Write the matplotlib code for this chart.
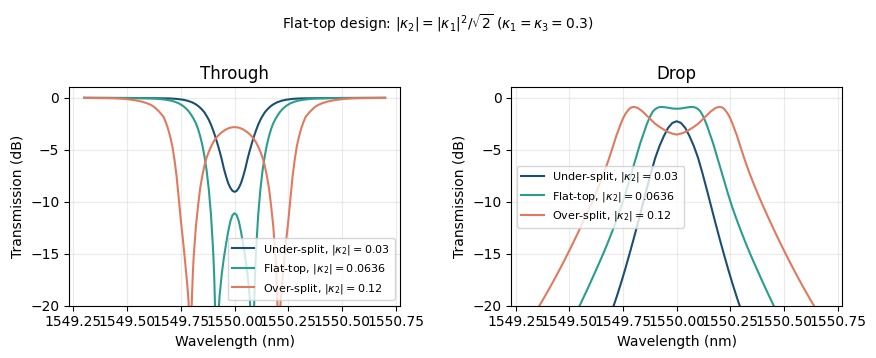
import numpy as np
import matplotlib
matplotlib.use("Agg")
from matplotlib import pyplot as plt

# centre wavelength of the filter (nm); curves are stored as offsets from it
center_nm = 1550.0

# ---- through port, values (offset nm, dB) ----
thr_under_off = [-0.70, -0.60, -0.50, -0.45, -0.40, -0.35, -0.30, -0.27, -0.24, -0.22, -0.20, -0.19,
                 -0.18, -0.17, -0.16, -0.15, -0.14, -0.13, -0.12, -0.11, -0.10, -0.09, -0.08, -0.07,
                 -0.06, -0.05, -0.04, -0.03, -0.02, -0.01, 0.0,
                 0.01, 0.02, 0.03, 0.04, 0.05, 0.06, 0.07, 0.08, 0.09, 0.10, 0.11, 0.12, 0.13, 0.14,
                 0.15, 0.16, 0.17, 0.18, 0.19, 0.20, 0.22, 0.24, 0.27, 0.30, 0.35, 0.40, 0.45, 0.50,
                 0.60, 0.70]
thr_under_db = [-0.01, -0.015, -0.02, -0.03, -0.04, -0.05, -0.07, -0.11, -0.19, -0.28, -0.42, -0.52,
                -0.64, -0.78, -0.96, -1.17, -1.42, -1.75, -2.12, -2.58, -3.12, -3.72, -4.40, -5.12,
                -5.90, -6.80, -7.55, -8.20, -8.65, -8.95, -9.05,
                -8.95, -8.65, -8.20, -7.55, -6.80, -5.90, -5.12, -4.40, -3.72, -3.12, -2.58, -2.12,
                -1.75, -1.42, -1.17, -0.96, -0.78, -0.64, -0.52, -0.42, -0.28, -0.19, -0.11, -0.07,
                -0.05, -0.04, -0.03, -0.02, -0.015, -0.01]

thr_flat_off = [-0.70, -0.60, -0.50, -0.45, -0.40, -0.38, -0.35, -0.32, -0.30, -0.28, -0.26, -0.24,
                -0.23, -0.22, -0.21, -0.20, -0.19, -0.18, -0.17, -0.16, -0.15, -0.14, -0.13, -0.12,
                -0.11, -0.10, -0.095, -0.091, -0.087, -0.083, -0.079, -0.075, -0.07, -0.06, -0.05,
                -0.04, -0.03, -0.02, -0.01, 0.0,
                0.01, 0.02, 0.03, 0.04, 0.05, 0.06, 0.07, 0.075, 0.079, 0.083, 0.087, 0.091, 0.095,
                0.10, 0.11, 0.12, 0.13, 0.14, 0.15, 0.16, 0.17, 0.18, 0.19, 0.20, 0.21, 0.22, 0.23,
                0.24, 0.26, 0.28, 0.30, 0.32, 0.35, 0.38, 0.40, 0.45, 0.50, 0.60, 0.70]
thr_flat_db = [-0.01, -0.02, -0.03, -0.04, -0.06, -0.07, -0.12, -0.19, -0.26, -0.37, -0.53, -0.78,
               -0.95, -1.15, -1.40, -1.70, -2.05, -2.45, -3.00, -3.70, -4.55, -5.65, -7.00, -8.80,
               -11.2, -14.6, -17.0, -20.0, -24.0, -30.0, -24.0, -20.8, -19.1, -17.0, -15.4,
               -14.1, -12.9, -11.9, -11.3, -11.1,
               -11.3, -11.9, -12.9, -14.1, -15.4, -17.0, -19.1, -20.8, -24.0, -30.0, -24.0, -20.0,
               -17.0, -14.6, -11.2, -8.80, -7.00, -5.65, -4.55, -3.70, -3.00, -2.45, -2.05, -1.70,
               -1.40, -1.15, -0.95, -0.78, -0.53, -0.37, -0.26, -0.19, -0.12, -0.07, -0.06, -0.04,
               -0.03, -0.02, -0.01]

thr_over_off = [-0.70, -0.65, -0.60, -0.55, -0.50, -0.46, -0.43, -0.41, -0.39, -0.38, -0.37, -0.36,
                -0.35, -0.34, -0.33, -0.32, -0.31, -0.30, -0.29, -0.28, -0.27, -0.26, -0.25, -0.24,
                -0.23, -0.22, -0.214, -0.208, -0.205, -0.202, -0.198, -0.194, -0.19, -0.185, -0.18,
                -0.17, -0.16, -0.15, -0.14, -0.13, -0.12, -0.11, -0.10, -0.09, -0.08, -0.07, -0.06,
                -0.05, -0.04, -0.03, -0.02, -0.01, 0.0,
                0.01, 0.02, 0.03, 0.04, 0.05, 0.06, 0.07, 0.08, 0.09, 0.10, 0.11, 0.12, 0.13, 0.14,
                0.15, 0.16, 0.17, 0.18, 0.185, 0.19, 0.194, 0.198, 0.202, 0.205, 0.208, 0.214, 0.22,
                0.23, 0.24, 0.25, 0.26, 0.27, 0.28, 0.29, 0.30, 0.31, 0.32, 0.33, 0.34, 0.35, 0.36,
                0.37, 0.38, 0.39, 0.41, 0.43, 0.46, 0.50, 0.55, 0.60, 0.65, 0.70]
thr_over_db = [-0.02, -0.03, -0.04, -0.06, -0.13, -0.25, -0.38, -0.51, -0.68, -0.80, -0.95, -1.15,
               -1.35, -1.60, -1.85, -2.35, -2.95, -3.70, -4.60, -5.90, -7.50, -9.60, -11.8, -13.7,
               -15.8, -18.0, -19.6, -22.5, -28.0, -21.8, -19.0, -16.8, -15.2, -13.8, -12.4,
               -10.4, -8.70, -7.50, -6.50, -5.75, -5.20, -4.72, -4.30, -3.98, -3.72, -3.50, -3.33,
               -3.18, -3.05, -2.95, -2.88, -2.84, -2.83,
               -2.84, -2.88, -2.95, -3.05, -3.18, -3.33, -3.50, -3.72, -3.98, -4.30, -4.72, -5.20,
               -5.75, -6.50, -7.50, -8.70, -10.4, -12.4, -13.8, -15.2, -16.8, -19.0, -21.8, -28.0,
               -22.5, -19.6, -18.0, -15.8, -13.7, -11.8, -9.60, -7.50, -5.90, -4.60, -3.70, -2.95,
               -2.35, -1.85, -1.60, -1.35, -1.15, -0.95, -0.80, -0.68, -0.51, -0.38, -0.25, -0.13,
               -0.06, -0.04, -0.03, -0.02]

# ---- drop port ----
drp_under_off = [-0.32, -0.30, -0.28, -0.26, -0.24, -0.22, -0.20, -0.18, -0.16, -0.14, -0.12, -0.10,
                 -0.08, -0.06, -0.04, -0.02, 0.0, 0.02, 0.04, 0.06, 0.08, 0.10, 0.12, 0.14, 0.16,
                 0.18, 0.20, 0.22, 0.24, 0.26, 0.28, 0.30, 0.32]
drp_under_db = [-21.55, -20.4, -19.18, -17.88, -16.5, -15.05, -13.55, -12.0, -10.4, -8.80, -7.25, -5.80,
                -4.65, -3.70, -2.90, -2.42, -2.26, -2.42, -2.90, -3.70, -4.65, -5.80, -7.25, -8.80,
                -10.4, -12.0, -13.55, -15.05, -16.5, -17.88, -19.18, -20.4, -21.55]

drp_flat_off = [-0.48, -0.46, -0.44, -0.42, -0.40, -0.38, -0.36, -0.34, -0.32, -0.30, -0.28, -0.26,
                -0.24, -0.22, -0.20, -0.18, -0.17, -0.16, -0.15, -0.14, -0.13, -0.12, -0.11, -0.10,
                -0.09, -0.08, -0.07, -0.06, -0.04, -0.02, 0.0,
                0.02, 0.04, 0.06, 0.07, 0.08, 0.09, 0.10, 0.11, 0.12, 0.13, 0.14, 0.15, 0.16, 0.17,
                0.18, 0.20, 0.22, 0.24, 0.26, 0.28, 0.30, 0.32, 0.34, 0.36, 0.38, 0.40, 0.42, 0.44,
                0.46, 0.48]
drp_flat_db = [-21.2, -20.35, -19.48, -18.6, -17.7, -16.78, -15.85, -14.9, -13.9, -12.85, -11.75, -10.6,
               -9.30, -7.90, -6.50, -5.10, -4.40, -3.80, -3.20, -2.60, -2.10, -1.65, -1.30, -1.10,
               -0.97, -0.90, -0.89, -0.90, -0.96, -1.03, -1.06,
               -1.03, -0.96, -0.90, -0.89, -0.90, -0.97, -1.10, -1.30, -1.65, -2.10, -2.60, -3.20,
               -3.80, -4.40, -5.10, -6.50, -7.90, -9.30, -10.6, -11.75, -12.85, -13.9, -14.9, -15.85,
               -16.78, -17.7, -18.6, -19.48, -20.35, -21.2]

drp_over_off = [-0.68, -0.66, -0.64, -0.62, -0.60, -0.58, -0.56, -0.54, -0.52, -0.50, -0.48, -0.46,
                -0.44, -0.42, -0.40, -0.38, -0.36, -0.34, -0.32, -0.30, -0.28, -0.26, -0.25, -0.24,
                -0.23, -0.22, -0.21, -0.20, -0.19, -0.18, -0.16, -0.14, -0.12, -0.10, -0.08, -0.06,
                -0.04, -0.02, 0.0,
                0.02, 0.04, 0.06, 0.08, 0.10, 0.12, 0.14, 0.16, 0.18, 0.19, 0.20, 0.21, 0.22, 0.23,
                0.24, 0.25, 0.26, 0.28, 0.30, 0.32, 0.34, 0.36, 0.38, 0.40, 0.42, 0.44, 0.46, 0.48,
                0.50, 0.52, 0.54, 0.56, 0.58, 0.60, 0.62, 0.64, 0.66, 0.68]
drp_over_db = [-21.36, -20.7, -20.02, -19.32, -18.6, -17.86, -17.1, -16.32, -15.52, -14.7, -13.86, -13.0,
               -12.12, -11.22, -10.3, -9.35, -8.35, -7.30, -6.15, -4.90, -3.60, -2.50, -2.00, -1.60,
               -1.30, -1.05, -0.92, -0.88, -0.92, -1.00, -1.30, -1.70, -2.10, -2.50, -2.80, -3.06,
               -3.30, -3.45, -3.54,
               -3.45, -3.30, -3.06, -2.80, -2.50, -2.10, -1.70, -1.30, -1.00, -0.92, -0.88, -0.92,
               -1.05, -1.30, -1.60, -2.00, -2.50, -3.60, -4.90, -6.15, -7.30, -8.35, -9.35, -10.3,
               -11.22, -12.12, -13.0, -13.86, -14.7, -15.52, -16.32, -17.1, -17.86, -18.6, -19.32,
               -20.02, -20.7, -21.36]

labels = [r'Under-split, $|\kappa_2| = 0.03$',
          r'Flat-top, $|\kappa_2| = 0.0636$',
          r'Over-split, $|\kappa_2| = 0.12$']
colors = ['#1b4f72', '#2a9d8f', '#e07a5f']

through = [(thr_under_off, thr_under_db), (thr_flat_off, thr_flat_db), (thr_over_off, thr_over_db)]
drop = [(drp_under_off, drp_under_db), (drp_flat_off, drp_flat_db), (drp_over_off, drp_over_db)]

fig = plt.figure(figsize=(8.76, 3.58), dpi=100)
ax1 = fig.add_axes([0.0788, 0.146, 0.378, 0.610])
ax2 = fig.add_axes([0.5837, 0.146, 0.3775, 0.610])

for ax, curves, title, legloc in [(ax1, through, 'Through', 'lower right'),
                                  (ax2, drop, 'Drop', 'center left')]:
    for (off, db), lab, col in zip(curves, labels, colors):
        ax.plot(center_nm + np.array(off), db, color=col, lw=1.5, label=lab)
    ax.set_xlim(1549.23, 1550.77)
    ax.set_ylim(-20, 1)
    ax.set_xticks([1549.25, 1549.5, 1549.75, 1550.0, 1550.25, 1550.5, 1550.75])
    ax.set_xticklabels(['1549.25', '1549.50', '1549.75', '1550.00', '1550.25', '1550.50', '1550.75'])
    ax.set_yticks([0, -5, -10, -15, -20])
    ax.grid(True, alpha=0.25)
    ax.set_title(title, fontsize=12)
    ax.set_xlabel('Wavelength (nm)')
    ax.set_ylabel('Transmission (dB)')
    ax.legend(loc=legloc, fontsize=8)

fig.suptitle(r'Flat-top design: $|\kappa_2| = |\kappa_1|^2/\sqrt{2}$ ($\kappa_1 = \kappa_3 = 0.3$)',
             fontsize=10, y=0.965)

fig.savefig('out.png', dpi=100)
